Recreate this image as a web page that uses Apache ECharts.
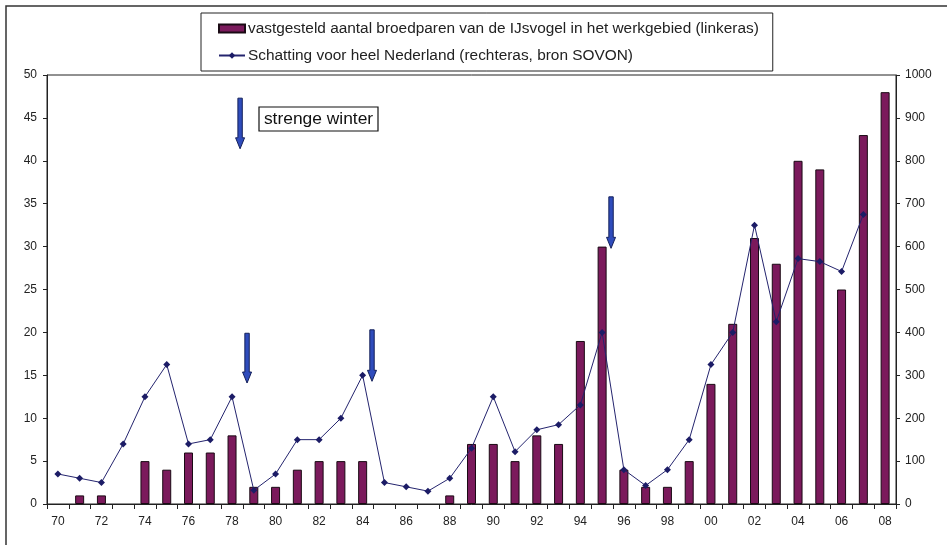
<!DOCTYPE html>
<html>
<head>
<meta charset="utf-8">
<script src="https://cdn.jsdelivr.net/npm/echarts@6/dist/echarts.min.js"></script>
<style>
html,body{margin:0;padding:0;background:#fff;}
#c{width:947px;height:545px;}
</style>
</head>
<body>
<div id="c"></div>
<script>
const years = ['70','71','72','73','74','75','76','77','78','79','80','81','82','83','84','85','86','87','88','89',
               '90','91','92','93','94','95','96','97','98','99','00','01','02','03','04','05','06','07','08'];
const broedparen = [0,1,1,0,5,4,6,6,8,2,2,4,5,5,5,0,0,0,1,7,
                    7,5,8,7,19,30,4,2,2,5,14,21,31,28,40,39,25,43,48];
const schatting = [70,60,50,140,250,325,140,150,250,32,70,150,150,200,300,50,40,30,60,130,
                   250,122,173,185,231,400,80,43,80,150,325,400,650,425,572,565,542,675,null];
const leftTicks = [0,5,10,15,20,25,30,35,40,45,50];
const rightTicks = [0,100,200,300,400,500,600,700,800,900,1000];
// winter arrows: category position (fractional index), top & tip in left-axis units
const arrowX = [8.37, 8.69, 14.43, 25.41];
const arrowTop = [47.3, 19.9, 20.3, 35.8];
const arrowTip = [41.4, 14.1, 14.3, 29.8];

const FONT = 'Liberation Sans, Arial, sans-serif';
const chart = echarts.init(document.getElementById('c'), null, {renderer:'canvas'});

const barData = broedparen.map(v => v === 0 ? {value: 0, itemStyle: {borderWidth: 0, opacity: 0}} : v);

const option = {
  animation: false,
  backgroundColor: '#fff',
  textStyle: {fontFamily: FONT},
  grid: {left: 47, right: 51, top: 75, bottom: 41, show: true, borderColor: '#222', borderWidth: 1, backgroundColor: 'transparent'},
  legend: {
    left: 201, top: 13,
    orient: 'vertical',
    padding: [8, 14, 8, 17],
    itemGap: 12,
    itemWidth: 26, itemHeight: 8,
    borderColor: '#222', borderWidth: 1,
    backgroundColor: '#fff',
    textStyle: {fontFamily: FONT, fontSize: 15.4, color: '#222', padding: [0,0,0,-2]},
    data: [
      {name: 'vastgesteld aantal broedparen van de IJsvogel in het werkgebied (linkeras)', icon: 'rect'},
      {name: 'Schatting voor heel Nederland (rechteras, bron SOVON)'}
    ]
  },
  xAxis: {
    type: 'category',
    data: years,
    boundaryGap: true,
    axisLine: {lineStyle: {color: '#222', width: 1}},
    axisTick: {show: true, alignWithLabel: false, interval: 0, length: 5, lineStyle: {color: '#222'}},
    axisLabel: {interval: 1, margin: 12, fontSize: 12, color: '#222', fontFamily: FONT},
    splitLine: {show: false}
  },
  yAxis: [
    {
      type: 'value', min: 0, max: 50, interval: 5,
      axisLine: {show: true, lineStyle: {color: '#222'}},
      axisTick: {show: true, length: 4, lineStyle: {color: '#222'}},
      axisLabel: {fontSize: 12, color: '#222', margin: 10, fontFamily: FONT,
        formatter: v => leftTicks.indexOf(v) >= 0 ? String(v) : ''},
      splitLine: {show: false}
    },
    {
      type: 'value', min: 0, max: 1000, interval: 100, position: 'right',
      axisLine: {show: true, lineStyle: {color: '#222'}},
      axisTick: {show: true, length: 4, lineStyle: {color: '#222'}},
      axisLabel: {fontSize: 12, color: '#222', margin: 9, fontFamily: FONT,
        formatter: v => rightTicks.indexOf(v) >= 0 ? String(v) : ''},
      splitLine: {show: false}
    }
  ],
  series: [
    {
      name: 'vastgesteld aantal broedparen van de IJsvogel in het werkgebied (linkeras)',
      type: 'bar', yAxisIndex: 0, data: barData,
      barWidth: 9,
      itemStyle: {color: '#7b1a5c', borderColor: '#1a0a14', borderWidth: 1}
    },
    {
      name: 'Schatting voor heel Nederland (rechteras, bron SOVON)',
      type: 'line', yAxisIndex: 1, data: schatting,
      symbol: 'diamond', symbolSize: 7, showSymbol: true,
      connectNulls: false,
      lineStyle: {color: '#24246e', width: 1},
      itemStyle: {color: '#1c1c66'},
      z: 5
    }
  ]
};
chart.setOption(option);

function catPixel(f) {
  const i0 = Math.floor(f), i1 = i0 + 1;
  const p0 = chart.convertToPixel({xAxisIndex: 0}, i0);
  const p1 = chart.convertToPixel({xAxisIndex: 0}, i1);
  return p0 + (p1 - p0) * (f - i0);
}

const graphics = [];
graphics.push({
  type: 'rect', silent: true, z: -10,
  shape: {x: 6, y: 6, width: 1000, height: 1000},
  style: {fill: 'none', stroke: '#333', lineWidth: 1.5}
});
for (let i = 0; i < arrowX.length; i++) {
  const x = catPixel(arrowX[i]);
  const yt = chart.convertToPixel({yAxisIndex: 0}, arrowTop[i]);
  const yb = chart.convertToPixel({yAxisIndex: 0}, arrowTip[i]);
  const hw = 2.2, hh = 4.5, headH = 11;
  graphics.push({
    type: 'polygon', silent: true, z: 100,
    shape: {points: [[x-hw, yt],[x+hw, yt],[x+hw, yb-headH],[x+hh, yb-headH],[x, yb],[x-hh, yb-headH],[x-hw, yb-headH]]},
    style: {fill: '#2f4cbc', stroke: '#14205a', lineWidth: 1}
  });
}
graphics.push({
  type: 'rect', silent: true, z: 100,
  shape: {x: 259, y: 107, width: 119, height: 24},
  style: {fill: '#fff', stroke: '#111', lineWidth: 1.2}
});
graphics.push({
  type: 'text', silent: true, z: 101,
  style: {x: 318.5, y: 119.5, text: 'strenge winter', fill: '#111', font: '17.4px ' + FONT, textAlign: 'center', textVerticalAlign: 'middle'}
});
chart.setOption({graphic: graphics});
</script>
</body>
</html>
